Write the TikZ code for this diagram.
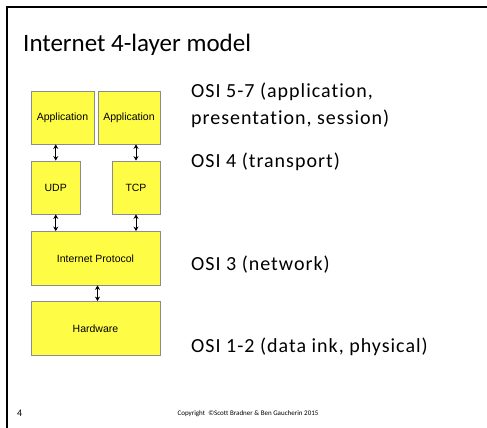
\documentclass[tikz,border=0pt]{standalone}
\usepackage{fontspec}
\setmainfont[Ligatures=NoCommon]{Carlito}
\newfontfamily\boxfont{Liberation Sans}
\newfontfamily\osifont[LetterSpace=5,Ligatures=NoCommon]{Carlito}
\usetikzlibrary{arrows.meta}
\definecolor{layerfill}{RGB}{255,252,70}
\definecolor{layerline}{RGB}{140,140,140}
\tikzset{
  layer/.style={draw=layerline, line width=0.8pt, fill=layerfill, inner sep=0pt,
    font=\boxfont\fontsize{10.5}{12}\selectfont},
  link/.style={line width=0.9pt, {Stealth[length=4.5pt,width=5pt]}-{Stealth[length=4.5pt,width=5pt]}},
  osi/.style={anchor=base west, inner sep=0pt, font=\osifont\fontsize{20}{24}\selectfont},
}
\begin{document}
\begin{tikzpicture}[x=1pt, y=-1pt]
  \useasboundingbox (0,0) rectangle (487,428);
  \fill[white] (0,0) rectangle (487,428);
  % slide frame: left and top edges only
  \draw[line width=2pt] (7,428) -- (7,7) -- (487,7);

  % title
  \node[anchor=base west, inner sep=0pt, font=\fontsize{25}{30}\selectfont] (title) at (23,52) {Internet 4-layer model};

  % protocol stack
  \node[layer, minimum width=63pt, minimum height=53pt] (app1) at (62.5,117.5) {Application};
  \node[layer, minimum width=62pt, minimum height=53pt] (app2) at (129,117.5) {Application};
  \node[layer, minimum width=49.5pt, minimum height=53pt] (udp) at (55.75,187.5) {UDP};
  \node[layer, minimum width=48pt, minimum height=53pt] (tcp) at (136,187.5) {TCP};
  \node[layer, minimum width=129pt, minimum height=53.5pt] (ip) at (95.5,258.25) {Internet Protocol};
  \node[layer, minimum width=129pt, minimum height=54pt] (hw) at (95.5,328.5) {Hardware};

  \draw[link] (udp.north |- app1.south) -- (udp.north);
  \draw[link] (tcp.north |- app2.south) -- (tcp.north);
  \draw[link] (udp.south) -- (udp.south |- ip.north);
  \draw[link] (tcp.south) -- (tcp.south |- ip.north);
  \draw[link] ([xshift=2pt]ip.south) -- ([xshift=2pt]hw.north);

  % OSI correspondence
  \node[osi] (osi57) at (191,97) {OSI 5-7 (application,};
  \node[osi] (osi57b) at (191,124) {presentation, session)};
  \node[osi] (osi4) at (191,167) {OSI 4 (transport)};
  \node[osi] (osi3) at (191,270) {OSI 3 (network)};
  \node[osi] (osi12) at (191,352) {OSI 1-2 (data ink, physical)};

  % footer
  \node[anchor=base west, inner sep=0pt, font=\fontsize{10}{12}\selectfont] (page) at (17,416) {4};
  \node[anchor=base, inner sep=0pt, font=\fontsize{7}{8}\selectfont] (copy) at (248,415) {Copyright \ ©Scott Bradner \& Ben Gaucherin 2015};
\end{tikzpicture}
\end{document}
